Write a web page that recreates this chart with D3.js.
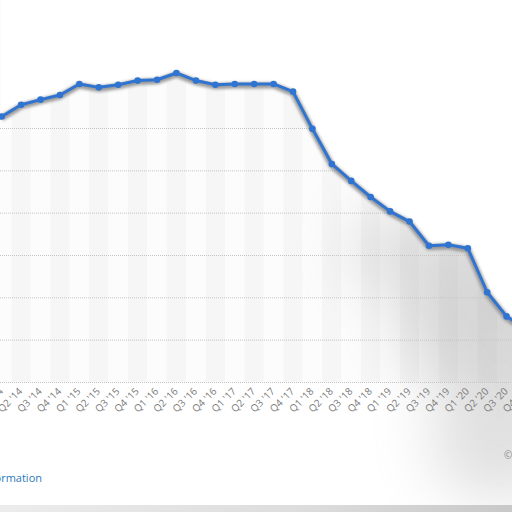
<!DOCTYPE html>
<html>
<head>
<meta charset="utf-8">
<script src="https://cdn.jsdelivr.net/npm/d3@7"></script>
<style>
  body { margin: 0; background: #fff; }
  svg { display: block; font-family: "Open Sans", "DejaVu Sans", sans-serif; }
</style>
</head>
<body>
<div id="chart"></div>
<script>
// quarters Q1 '14 .. Q4 '20
var quarters = [];
var years = ["14", "15", "16", "17", "18", "19", "20"];
years.forEach(function(y) {
    ["Q1", "Q2", "Q3", "Q4"].forEach(function(q) { quarters.push(q + " '" + y); });
});

var values = [62.7, 65.5, 66.7, 67.8, 70.4, 69.6, 70.2, 71.2, 71.4, 73.0,
              71.2, 70.2, 70.4, 70.4, 70.4, 68.6, 59.8, 51.5, 47.5, 43.7,
              40.3, 37.9, 32.2, 32.4, 31.6, 21.2, 15.5, 12.5];

var yTicks = [0, 10, 20, 30, 40, 50, 60];

var width = 512, height = 512;
var svg = d3.select("#chart").append("svg")
    .attr("width", width)
    .attr("height", height);

var defs = svg.append("defs");
defs.append("filter").attr("id", "blur")
    .attr("filterUnits", "userSpaceOnUse")
    .attr("x", 0).attr("y", 0).attr("width", 700).attr("height", 700)
    .append("feGaussianBlur").attr("stdDeviation", 30);
defs.append("filter").attr("id", "shadow")
    .attr("x", "-10%").attr("y", "-10%").attr("width", "120%").attr("height", "130%")
    .append("feGaussianBlur").attr("stdDeviation", 1.8);
var grad = defs.append("linearGradient").attr("id", "strip")
    .attr("x1", "0").attr("x2", "1").attr("y1", "0").attr("y2", "0");
grad.append("stop").attr("offset", "0").attr("stop-color", "#ececec");
grad.append("stop").attr("offset", "0.6").attr("stop-color", "#dcdcdc");
grad.append("stop").attr("offset", "1").attr("stop-color", "#c8c8c8");

var x = d3.scalePoint()
    .domain(quarters)
    .range([1.7, 1.7 + 19.42 * (quarters.length - 1)]);

var y = d3.scaleLinear()
    .domain([0, 60])
    .range([382, 128]);

// alternating column bands
svg.append("g").selectAll("rect")
    .data(quarters)
    .enter()
    .append("rect")
        .attr("x", function(d) { return x(d) - x.step() / 2; })
        .attr("y", 0)
        .attr("width", x.step())
        .attr("height", 382)
        .attr("fill", function(d, i) { return i % 2 ? "#f6f6f6" : "#fcfcfc"; });

// blurry grey patch in the lower right
var blob = svg.append("g").attr("filter", "url(#blur)").attr("opacity", 0.32);
blob.append("ellipse").attr("cx", 500).attr("cy", 310).attr("rx", 100).attr("ry", 95).attr("fill", "#8a8a8a");
blob.append("ellipse").attr("cx", 400).attr("cy", 250).attr("rx", 50).attr("ry", 40).attr("fill", "#a0a0a0");
blob.append("ellipse").attr("cx", 500).attr("cy", 440).attr("rx", 70).attr("ry", 60).attr("fill", "#a0a0a0");

// gridlines
svg.append("g")
    .call(d3.axisLeft(y).tickValues(yTicks).tickSize(-width).tickFormat(""))
    .call(function(g) {
        g.select(".domain").remove();
        g.selectAll("line")
            .attr("stroke", "#c4c4c4")
            .attr("stroke-dasharray", "1,1");
    });

// white mask above the line
var mask = d3.area()
    .x(function(d, i) { return x(quarters[i]); })
    .y0(-10)
    .y1(function(d) { return y(d); });
svg.append("path")
    .datum(values)
    .attr("fill", "#fff")
    .attr("d", mask);

// line with shadow
var line = d3.line()
    .x(function(d, i) { return x(quarters[i]); })
    .y(function(d) { return y(d); });

svg.append("path")
    .datum(values)
    .attr("fill", "none")
    .attr("stroke", "#8a8a8a")
    .attr("stroke-opacity", 0.85)
    .attr("stroke-width", 6)
    .attr("transform", "translate(0,1.5)")
    .attr("filter", "url(#shadow)")
    .attr("d", line);

svg.append("path")
    .datum(values)
    .attr("fill", "none")
    .attr("stroke", "#2f74d0")
    .attr("stroke-width", 3)
    .attr("stroke-linejoin", "round")
    .attr("d", line);

svg.append("g").selectAll("circle")
    .data(values)
    .enter()
    .append("circle")
        .attr("cx", function(d, i) { return x(quarters[i]); })
        .attr("cy", function(d) { return y(d); })
        .attr("r", 3.3)
        .attr("fill", "#2f74d0");

// x labels
svg.append("g").selectAll("text")
    .data(quarters)
    .enter()
    .append("text")
        .attr("transform", function(d) { return "translate(" + (x(d) + 2) + ",392) rotate(-45)"; })
        .attr("text-anchor", "end")
        .attr("font-size", 10)
        .attr("fill", "#7a7a7a")
        .text(function(d) { return d; });

// bottom strip and footer
svg.append("rect")
    .attr("x", 0).attr("y", 505).attr("width", width).attr("height", 7)
    .attr("fill", "url(#strip)");

svg.append("text")
    .attr("x", 42).attr("y", 482)
    .attr("text-anchor", "end")
    .attr("font-size", 11)
    .attr("fill", "#2a7ab8")
    .text("Additional Information");

svg.append("text")
    .attr("x", 504).attr("y", 459)
    .attr("font-size", 10)
    .attr("fill", "#8c8c8c")
    .text("©");
</script>
</body>
</html>
